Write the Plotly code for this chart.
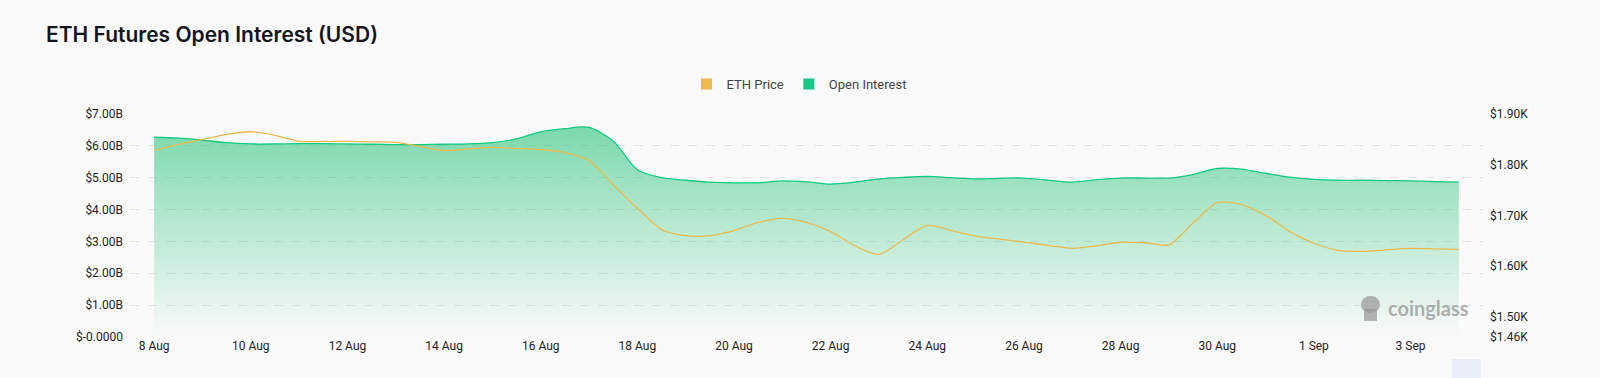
import plotly.graph_objects as go
import pandas as pd

# ---- data (12-hour steps from 8 Aug 2023 00:00 to 4 Sep 2023 00:00) ----
start = pd.Timestamp("2023-08-08 00:00")
open_interest_b = [
    6.27, 6.24, 6.18, 6.10, 6.06, 6.06, 6.07, 6.07, 6.06, 6.05,
    6.04, 6.04, 6.05, 6.06, 6.10, 6.22, 6.44, 6.54, 6.58, 6.15,
    5.25, 5.00, 4.92, 4.86, 4.84, 4.84, 4.90, 4.87, 4.80, 4.86,
    4.96, 5.01, 5.04, 5.00, 4.96, 4.98, 4.99, 4.92, 4.86, 4.94,
    4.99, 4.99, 4.99, 5.10, 5.29, 5.27, 5.14, 5.02, 4.95, 4.92,
    4.92, 4.91, 4.90, 4.88, 4.86,
]
eth_price = [
    1828, 1840, 1850, 1860, 1865, 1858, 1846, 1846, 1846, 1845,
    1844, 1836, 1828, 1831, 1834, 1832, 1830, 1824, 1808, 1760,
    1714, 1672, 1660, 1660, 1670, 1686, 1694, 1686, 1668, 1640,
    1623, 1652, 1680, 1670, 1659, 1653, 1647, 1641, 1635, 1640,
    1647, 1646, 1642, 1685, 1725, 1721, 1700, 1668, 1645, 1631,
    1629, 1632, 1635, 1634, 1633,
]
times = [start + pd.Timedelta(hours=12 * i) for i in range(len(open_interest_b))]

x_tick_dates = pd.date_range("2023-08-08", "2023-09-03", freq="2D")
x_tick_labels = [f"{d.day} {d.strftime('%b')}" for d in x_tick_dates]

left_tickvals = [0, 1, 2, 3, 4, 5, 6, 7]
left_ticktext = ["$-0.0000", "$1.00B", "$2.00B", "$3.00B", "$4.00B", "$5.00B", "$6.00B", "$7.00B"]
right_tickvals = [1460, 1500, 1600, 1700, 1800, 1900]
right_ticktext = ["$1.46K", "$1.50K", "$1.60K", "$1.70K", "$1.80K", "$1.90K"]

GREEN = "#0ecb81"
YELLOW = "#ebb94f"
BG = "#fafafa"
FONT = "Roboto"
MARK = "rgba(150,150,150,0.7)"

fig = go.Figure()

fig.add_trace(go.Scatter(
    x=times, y=open_interest_b, name="Open Interest", mode="lines",
    line=dict(color=GREEN, width=1.3, shape="spline", smoothing=0.8),
    fill="tozeroy",
    fillgradient=dict(type="vertical", start=0, stop=6.6,
                      colorscale=[[0, "rgba(20,190,110,0.0)"], [1, "rgba(20,190,110,0.55)"]]),
    showlegend=False, yaxis="y",
))
fig.add_trace(go.Scatter(
    x=times, y=eth_price, name="ETH Price", mode="lines",
    line=dict(color=YELLOW, width=1.3, shape="spline", smoothing=0.8),
    showlegend=False, yaxis="y2",
))
# legend entries (square swatches)
fig.add_trace(go.Scatter(x=[None], y=[None], mode="markers", name="ETH Price",
                         marker=dict(symbol="square", size=11, color=YELLOW)))
fig.add_trace(go.Scatter(x=[None], y=[None], mode="markers", name="Open Interest",
                         marker=dict(symbol="square", size=11, color="#17c784")))

W, H = 1600, 378
L, R, T, B = 130, 117, 114, 41
pw, ph = W - L - R, H - T - B

def px_x(p):
    return (p - L) / pw

def px_y(p):
    return (H - B - p) / ph

fig.update_layout(
    width=W, height=H,
    margin=dict(l=L, r=R, t=T, b=B),
    paper_bgcolor=BG, plot_bgcolor=BG,
    font=dict(family=FONT, size=12, color="#222"),
    title=dict(text="ETH Futures Open Interest (USD)", xref="container", yref="container",
               x=46 / W, xanchor="left", y=1 - 35 / H, yanchor="middle",
               font=dict(family="Inter", size=21, color="#15151f", weight=600)),
    legend=dict(orientation="h", x=px_x(799), xanchor="center", y=px_y(84), yanchor="middle",
                font=dict(family=FONT, size=13, color="#444"), bgcolor="rgba(0,0,0,0)",
                itemwidth=30),
    xaxis=dict(type="date", range=[pd.Timestamp("2023-08-07 12:00"), pd.Timestamp("2023-09-04 12:00")],
               tickvals=list(x_tick_dates), ticktext=x_tick_labels, showgrid=False,
               zeroline=False, showline=False, ticks="", tickfont=dict(size=12, color="#222")),
    yaxis=dict(range=[0, 7], tickvals=left_tickvals, ticktext=left_ticktext, showgrid=True,
               gridcolor="#e4e4e4", griddash="dash", gridwidth=1, zeroline=False, ticks="",
               ticklabelstandoff=6, tickfont=dict(size=12, color="#222")),
    yaxis2=dict(range=[1460, 1900], overlaying="y", side="right", tickvals=right_tickvals,
                ticktext=right_ticktext, showgrid=False, zeroline=False, ticks="",
                ticklabelstandoff=6, tickfont=dict(size=12, color="#222")),
    showlegend=True,
)

# watermark text
fig.add_annotation(text="<b>coinglass</b>", x=px_x(1428), y=px_y(308), xref="paper", yref="paper",
                   xanchor="center", yanchor="middle", showarrow=False,
                   font=dict(family="Lato", size=20, color="rgba(150,150,150,0.75)"))
# simple mascot glyph for the watermark
fig.add_shape(type="circle", xref="paper", yref="paper", x0=px_x(1361), x1=px_x(1380),
              y0=px_y(313), y1=px_y(296), fillcolor=MARK, line=dict(width=0))
fig.add_shape(type="rect", xref="paper", yref="paper", x0=px_x(1364), x1=px_x(1377),
              y0=px_y(321), y1=px_y(309), fillcolor=MARK, line=dict(width=0))
# data-zoom slider handle remnant
fig.add_shape(type="rect", xref="paper", yref="paper", x0=px_x(1452), x1=px_x(1481),
              y0=px_y(378), y1=px_y(359), fillcolor="#e8edf8", line=dict(width=0), layer="below")

fig.write_html(
    "out.html",
    config={"displayModeBar": False},
    post_script="document.body.style.margin='0';document.body.style.background='#fafafa';",
)
